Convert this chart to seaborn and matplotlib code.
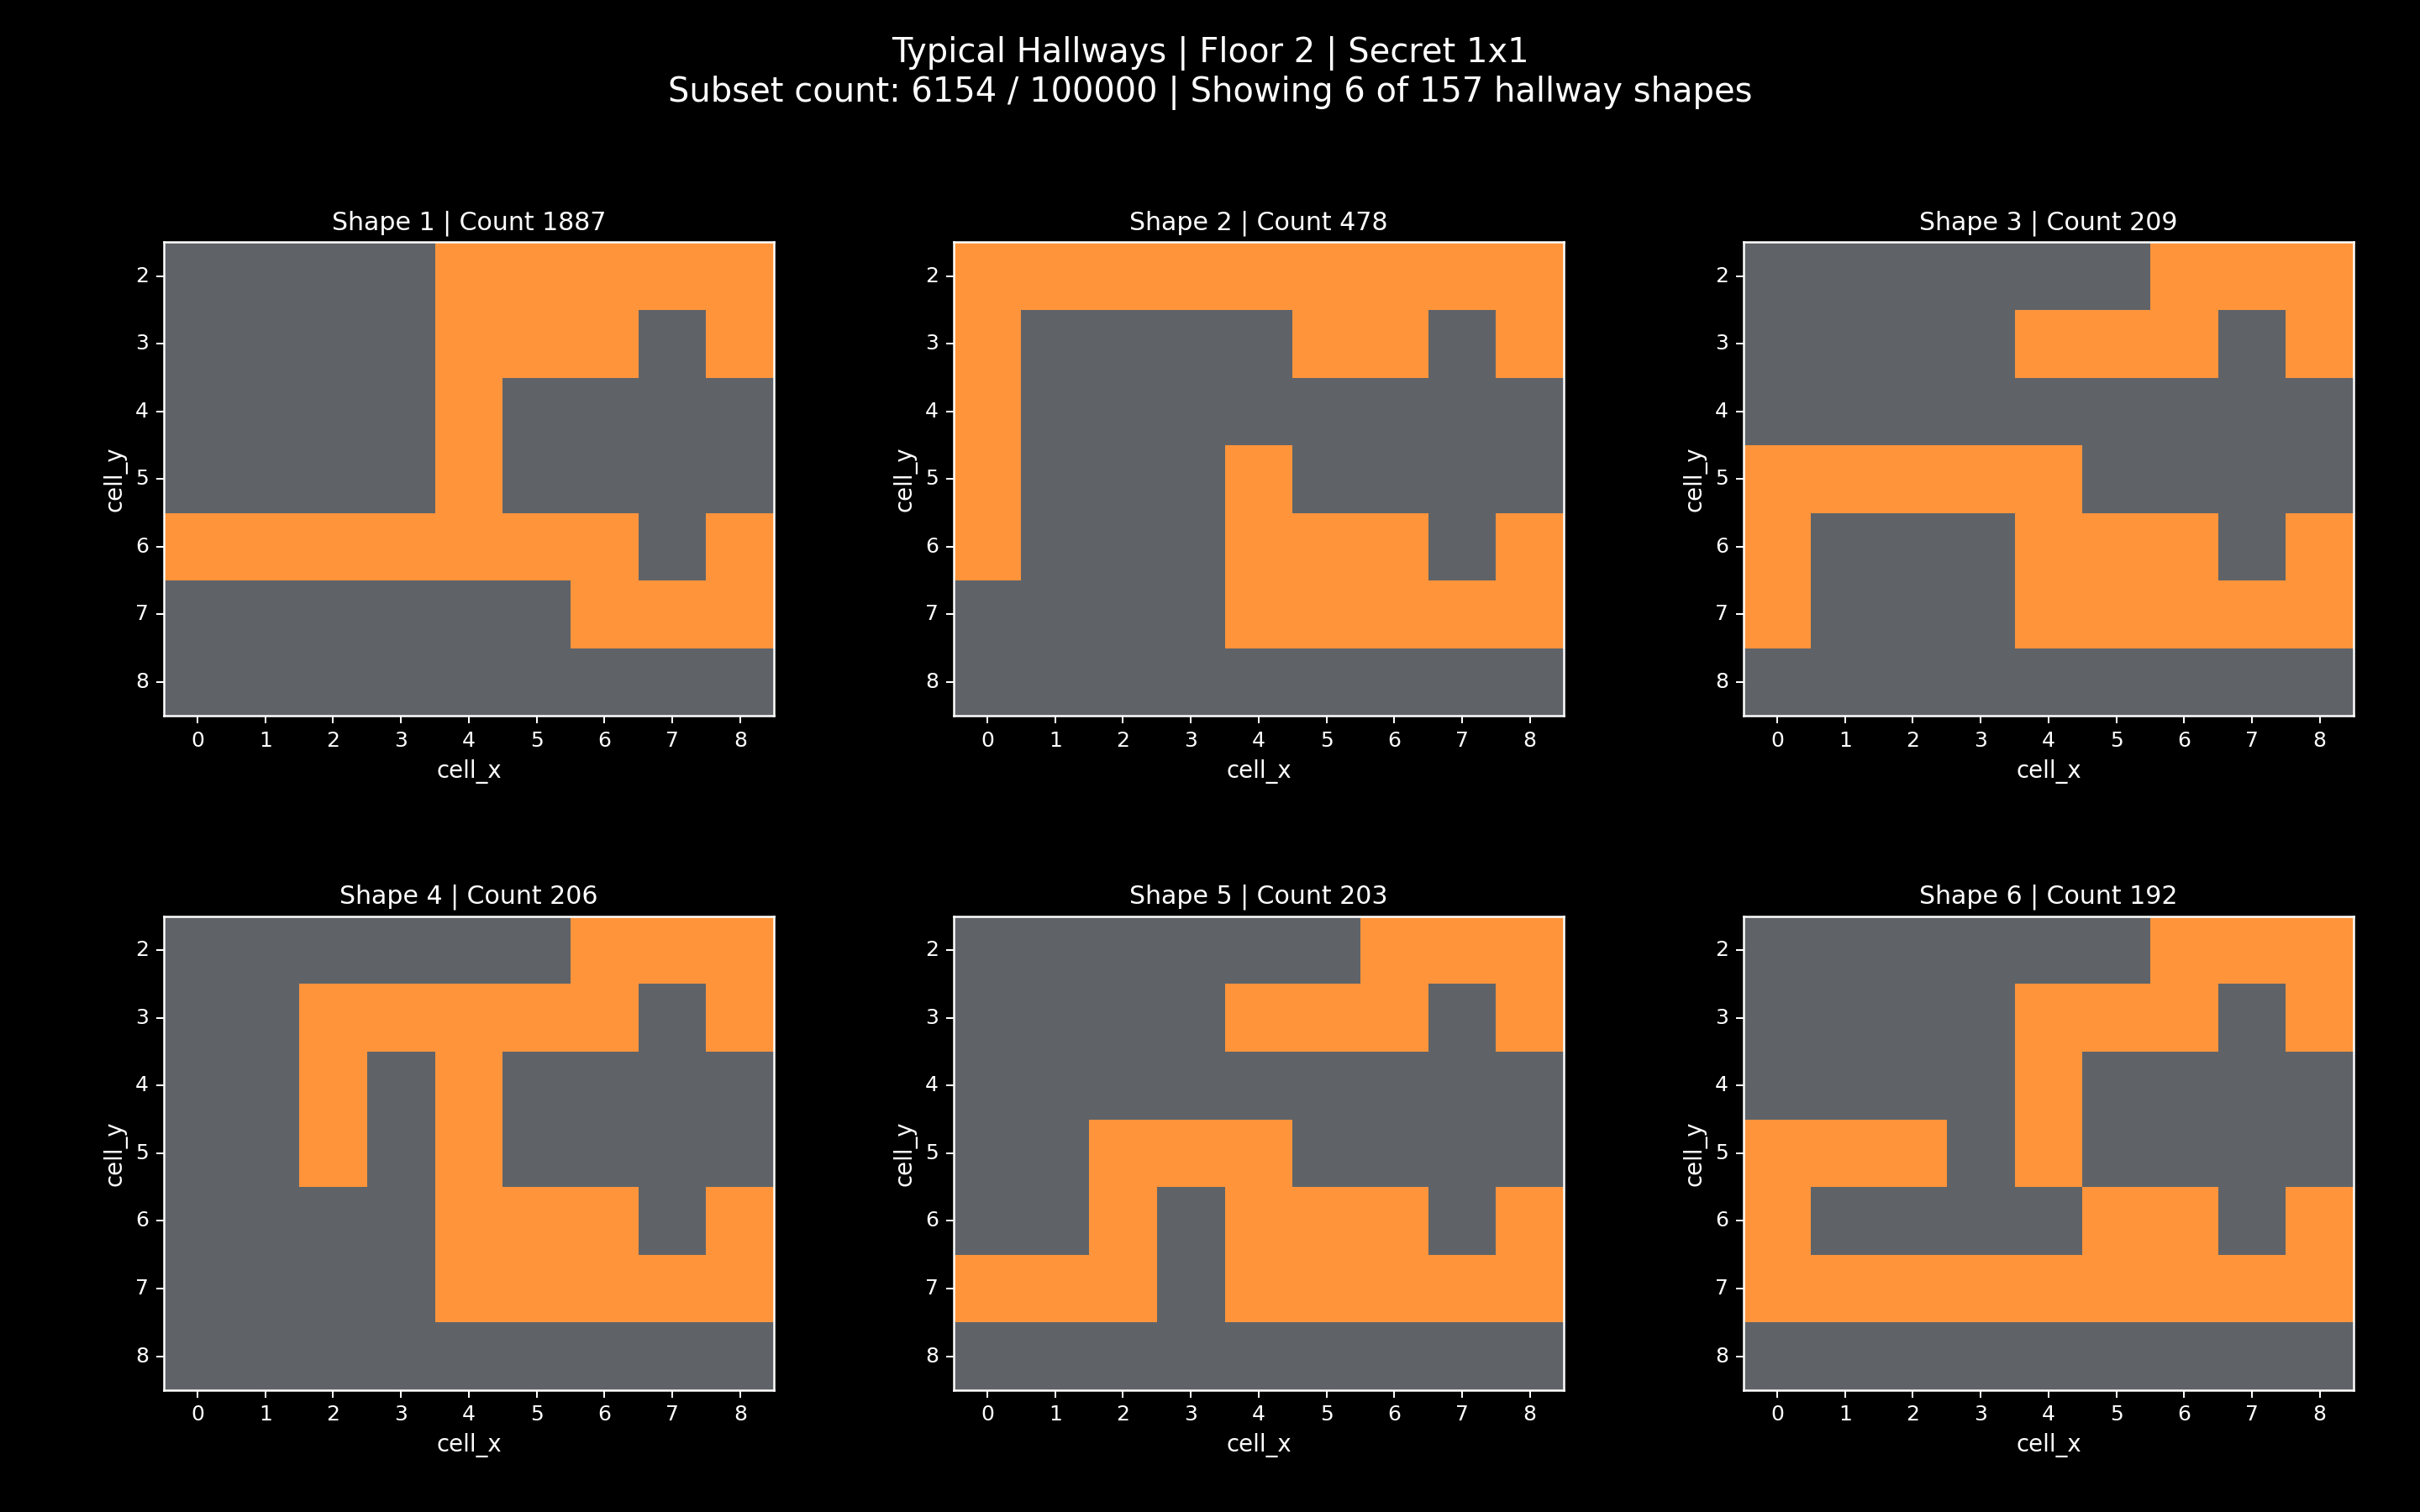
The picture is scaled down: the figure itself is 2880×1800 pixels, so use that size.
import numpy as np
import pandas as pd
import matplotlib
matplotlib.use("Agg")
from matplotlib import pyplot as plt
from matplotlib.colors import ListedColormap
import seaborn as sns

cell_x = [0, 1, 2, 3, 4, 5, 6, 7, 8]
cell_y = [2, 3, 4, 5, 6, 7, 8]

shape_counts = [1887, 478, 209, 206, 203, 192]

# 1 = hallway cell, 0 = room cell; rows are cell_y 2..8
shape_1 = ["000011111",
           "000011101",
           "000010000",
           "000010000",
           "111111101",
           "000000111",
           "000000000"]
shape_2 = ["111111111",
           "100001101",
           "100000000",
           "100010000",
           "100011101",
           "000011111",
           "000000000"]
shape_3 = ["000000111",
           "000011101",
           "000000000",
           "111110000",
           "100011101",
           "100011111",
           "000000000"]
shape_4 = ["000000111",
           "001111101",
           "001010000",
           "001010000",
           "000011101",
           "000011111",
           "000000000"]
shape_5 = ["000000111",
           "000011101",
           "000000000",
           "001110000",
           "001011101",
           "111011111",
           "000000000"]
shape_6 = ["000000111",
           "000011101",
           "000010000",
           "111010000",
           "100001101",
           "111111111",
           "000000000"]

shapes = [shape_1, shape_2, shape_3, shape_4, shape_5, shape_6]

plt.style.use('dark_background')
plt.rcParams['font.family'] = ['DejaVu Sans']

cmap = ListedColormap(['#5f6368', '#ff943b'])

fig, axes = plt.subplots(2, 3, figsize=(16, 10), dpi=180)
fig.patch.set_facecolor('black')
plt.subplots_adjust(left=0.0676, right=0.9726, top=0.8398, bottom=0.0806,
                    wspace=0.294, hspace=0.423)

for i, (rows, ax) in enumerate(zip(shapes, axes.flat)):
    grid = np.array([[int(c) for c in r] for r in rows])
    df = pd.DataFrame(grid, index=cell_y, columns=cell_x)
    sns.heatmap(df, ax=ax, cmap=cmap, vmin=0, vmax=1, cbar=False,
                xticklabels=cell_x, yticklabels=cell_y)
    for s in ax.spines.values():
        s.set_visible(True)
        s.set_color('white')
        s.set_linewidth(1.0)
    ax.tick_params(colors='white', labelsize=10, length=3.5, width=0.8)
    ax.set_yticklabels(cell_y, rotation=0)
    ax.set_xticklabels(cell_x, rotation=0)
    ax.set_xlabel('cell_x', fontsize=11, color='white')
    ax.set_ylabel('cell_y', fontsize=11, color='white')
    ax.set_title(f'Shape {i + 1} | Count {shape_counts[i]}', fontsize=12, color='white')

fig.suptitle('Typical Hallways | Floor 2 | Secret 1x1\n'
             'Subset count: 6154 / 100000 | Showing 6 of 157 hallway shapes',
             fontsize=16, color='white', y=0.976)

plt.savefig('out.png', dpi=180, facecolor='black')
